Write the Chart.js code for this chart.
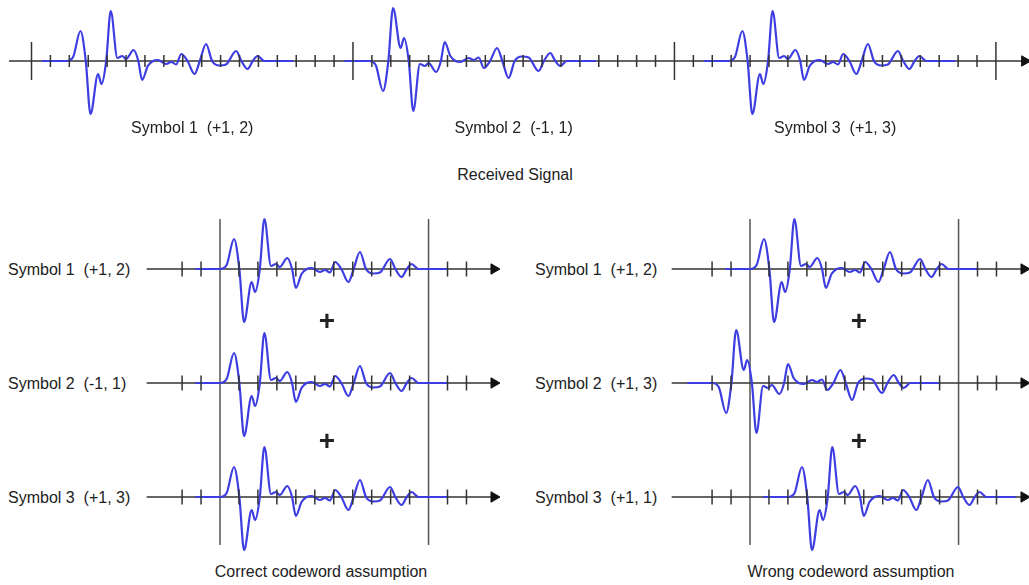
<!DOCTYPE html>
<html lang="en">
<head>
<meta charset="UTF-8">
<title>Received Signal - codeword assumption</title>
<style>
    * { margin: 0; padding: 0; box-sizing: border-box; }
    body {
        width: 1029px; height: 585px; position: relative; overflow: hidden;
        background: #fff; color: #222;
        font-family: "Liberation Sans", Arial, sans-serif;
    }
    canvas { position: absolute; }
    .lbl { position: absolute; font-size: 16px; line-height: 1; white-space: pre; transform: translateY(-50%); }
    .ctr { transform: translate(-50%, -50%); }
    .plus { position: absolute; font-size: 28px; font-weight: bold; line-height: 1; transform: translate(-50%, -50%); }
</style>
</head>
<body>
<canvas id="topChart"></canvas>
<canvas id="leftChart"></canvas>
<canvas id="rightChart"></canvas>
<div id="labels"></div>

<script src="https://cdn.jsdelivr.net/npm/chart.js"></script>
<script>
// pulse shape: time in chips after pulse start, amplitude (+1 polarity)
const pulseT = [-1.3, 0, 0.35, 0.74, 1.02, 1.27, 1.67, 1.85, 2.1, 2.34, 2.69, 2.95, 3.15, 3.55, 3.8, 4.0, 4.3, 4.57, 4.83, 5.05, 5.27, 5.54, 5.8, 6.07, 6.4, 6.77, 7.05, 7.38, 7.7, 8.09, 8.44, 8.97, 9.25, 9.58, 9.85, 10.11, 10.46, 12];
const pulseA = [0, 0, 4, 30, 0, -53, -13, -23, 0, 50, 3, 5, 2, 11, 0, -19, -5, 0, 1, -1, -3, -1, -3.5, 7, 0, -13, 0, 17, 0, -4.5, -3.5, 10, 0, -8, 0, 5, 0, 0];

// received signal: frame start (chips), pulse position, polarity
const topFrames = [0, 17, 34, 51];
const topPos = [2, 1, 3];
const topPol = [1, -1, 1];
const topLabels = ["Symbol 1  (+1, 2)", "Symbol 2  (-1, 1)", "Symbol 3  (+1, 3)"];

// despread windows: shift of each pulse against the window, polarity after codeword
const leftShift = [0, 0, 0];
const leftPol = [1, 1, 1];
const leftLabels = ["Symbol 1  (+1, 2)", "Symbol 2  (-1, 1)", "Symbol 3  (+1, 3)"];
const rightShift = [0, -2, 2];
const rightPol = [1, -1, 1];
const rightLabels = ["Symbol 1  (+1, 2)", "Symbol 2  (+1, 3)", "Symbol 3  (+1, 1)"];
const windowEdges = [0, 11];
const bottomTicks = [-2, -1, 1, 2, 3, 4, 5, 6, 7, 8, 9, 10, 12, 13];

const captions = ["Received Signal", "Correct codeword assumption", "Wrong codeword assumption"];

// colours / sizes
const WAVE = "#3d3de2", AXIS = "#333", FRAME = "#555";

function wave(start, pol, base) {
    return pulseT.map((t, i) => ({ x: start + t, y: base + pol * pulseA[i] }));
}
function lineDs(data, color, width) {
    return { data, showLine: true, borderColor: color, borderWidth: width, pointRadius: 0, fill: false, clip: false };
}
function waveDs(data) {
    const d = lineDs(data, WAVE, 2.2);
    d.cubicInterpolationMode = "monotone";
    d.tension = 0.4;
    return d;
}
function tickDs(xs, base, r) {
    return {
        data: xs.map(x => ({ x, y: base })), showLine: false, clip: false,
        pointStyle: "line", rotation: 90, pointRadius: r,
        borderColor: AXIS, borderWidth: 1.5
    };
}
function arrowDs(x, base) {
    return {
        data: [{ x, y: base }], showLine: false, clip: false,
        pointStyle: "triangle", rotation: 90, pointRadius: 6,
        backgroundColor: "#111", borderColor: "#111", borderWidth: 1
    };
}

function makeChart(id, box, xr, yr, datasets) {
    const cv = document.getElementById(id);
    cv.width = box.w; cv.height = box.h;
    cv.style.left = box.x + "px"; cv.style.top = box.y + "px";
    return new Chart(cv, {
        type: "scatter",
        data: { datasets },
        options: {
            responsive: false, animation: false, events: [],
            layout: { padding: 0, autoPadding: false },
            plugins: { legend: { display: false }, tooltip: { enabled: false } },
            scales: {
                x: { type: "linear", display: false, min: xr[0], max: xr[1] },
                y: { type: "linear", display: false, min: yr[0], max: yr[1] }
            }
        }
    });
}

// ---- top: received signal ----
const CHIP_T = 18.91;
const TOP_LEAD = -0.15; // pulses sit slightly early on the top axis
(function () {
    const small = [];
    for (let u = 1; u < topFrames[topFrames.length - 1]; u++) if (!topFrames.includes(u)) small.push(u);
    const waves = topPos.map((p, i) => waveDs(wave(topFrames[i] + p + TOP_LEAD, topPol[i], 0)));
    const ds = [
        tickDs(small, 0, 6),
        tickDs(topFrames, 0, 19),
        arrowDs(52.52, 0),
        ...waves,
        lineDs([{ x: -1.19, y: 0 }, { x: 52.6, y: 0 }], AXIS, 1.5)
    ];
    makeChart("topChart", { x: 0, y: 0, w: 1029, h: 130 },
        [-31.5 / CHIP_T, (1029 - 31.5) / CHIP_T], [-69, 61], ds);
})();

// ---- bottom panels ----
const CHIP_B = 18.96;
const rowBase = [0, -114, -228];
function panel(id, left, frameX, axisStart, shifts, pols) {
    const ds = [];
    rowBase.forEach(b => ds.push(tickDs(bottomTicks, b, 7.5)));
    rowBase.forEach(b => ds.push(arrowDs(14.45, b)));
    rowBase.forEach((b, i) => ds.push(waveDs(wave(shifts[i], pols[i], b))));
    rowBase.forEach(b => ds.push(lineDs([{ x: axisStart, y: b }, { x: 14.5, y: b }], AXIS, 1.5)));
    windowEdges.forEach(e => ds.push(lineDs([{ x: e, y: 50 }, { x: e, y: -276 }], FRAME, 1.5)));
    const w = Math.min(370, 1029 - left);
    makeChart(id, { x: left, y: 205, w, h: 355 },
        [(left - frameX) / CHIP_B, (left + w - frameX) / CHIP_B], [-291, 64], ds);
}
panel("leftChart", 140, 220, -3.87, leftShift, leftPol);
panel("rightChart", 660, 750, -4.13, rightShift, rightPol);

// ---- text ----
const holder = document.getElementById("labels");
function addText(txt, x, y, cls) {
    const d = document.createElement("div");
    d.className = cls; d.textContent = txt;
    d.style.left = x + "px"; d.style.top = y + "px";
    holder.appendChild(d);
}
topLabels.forEach((t, i) => addText(t, 31.5 + (topFrames[i] + 8.5) * CHIP_T, 128, "lbl ctr"));
leftLabels.forEach((t, i) => addText(t, 8, 270 - rowBase[i], "lbl"));
rightLabels.forEach((t, i) => addText(t, 535, 270 - rowBase[i], "lbl"));
addText(captions[0], 515, 175, "lbl ctr");
addText(captions[1], 321, 572, "lbl ctr");
addText(captions[2], 851, 572, "lbl ctr");
[[327, 321], [327, 441], [859, 321], [859, 441]].forEach(p => addText("+", p[0], p[1], "plus"));
</script>
</body>
</html>
